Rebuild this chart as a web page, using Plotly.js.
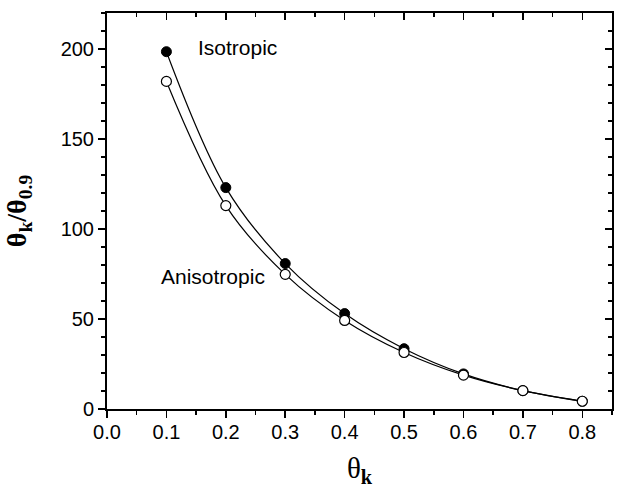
<!DOCTYPE html>
<html>
<head>
<meta charset="utf-8">
<script src="https://cdn.plot.ly/plotly-3.0.1.min.js"></script>
<style>html,body{margin:0;padding:0;background:#fff;}#chart{width:620px;height:488px;}</style>
</head>
<body>
<div id="chart"></div>
<script>
const thetaK = [0.1, 0.2, 0.3, 0.4, 0.5, 0.6, 0.7, 0.8];
const isotropic = [198.5, 123, 80.8, 53, 33.5, 19.5, 10.2, 4.3];
const anisotropic = [182, 113, 74.8, 49.2, 31.4, 18.8, 10.2, 4.3];
const xTickVals = [0, 0.1, 0.2, 0.3, 0.4, 0.5, 0.6, 0.7, 0.8];
const xTickText = ['0.0', '0.1', '0.2', '0.3', '0.4', '0.5', '0.6', '0.7', '0.8'];
const yTickVals = [0, 50, 100, 150, 200];

const tickFont = {family: 'Liberation Sans, Arial, sans-serif', size: 20, color: '#000'};
const serif = 'Liberation Serif, Times New Roman, serif';

const traces = [
  {x: thetaK, y: isotropic, mode: 'lines+markers', name: 'Isotropic',
   line: {color: '#000', width: 1.2, shape: 'spline'},
   marker: {symbol: 'circle', size: 10, color: '#000', line: {color: '#000', width: 1}}},
  {x: thetaK, y: anisotropic, mode: 'lines+markers', name: 'Anisotropic',
   line: {color: '#000', width: 1.2, shape: 'spline'},
   marker: {symbol: 'circle', size: 10, color: '#fff', line: {color: '#000', width: 1.2}}},
  {x: [null], y: [null], xaxis: 'x2', yaxis: 'y2', mode: 'markers', showlegend: false, hoverinfo: 'skip'}
];

const layout = {
  width: 620, height: 488,
  margin: {l: 107, r: 8, t: 13, b: 79},
  paper_bgcolor: '#fff', plot_bgcolor: '#fff',
  showlegend: false,
  xaxis: {range: [0, 0.85], tickvals: xTickVals, ticktext: xTickText,
    ticks: 'outside', ticklen: 7, tickwidth: 1.5, tickcolor: '#000',
    minor: {dtick: 0.05, tick0: 0, ticks: 'outside', ticklen: 4, tickwidth: 1.5, tickcolor: '#000'},
    showline: true, linewidth: 2, linecolor: '#000', showgrid: false, zeroline: false,
    tickfont: tickFont, ticklabelstandoff: -3,
    title: {text: 'θ<sub><b>k</b></sub>', font: {family: serif, size: 29, color: '#000'}, standoff: 22}},
  yaxis: {range: [0, 220], tickvals: yTickVals,
    ticks: 'outside', ticklen: 7, tickwidth: 1.5, tickcolor: '#000',
    minor: {dtick: 10, tick0: 0, ticks: 'outside', ticklen: 4, tickwidth: 1.5, tickcolor: '#000'},
    showline: true, linewidth: 2, linecolor: '#000', showgrid: false, zeroline: false,
    tickfont: tickFont,
    title: {text: '<b>θ<sub>k</sub>/θ<sub>0.9</sub></b>', font: {family: serif, size: 28, color: '#000'}, standoff: 26}},
  xaxis2: {overlaying: 'x', side: 'top', anchor: 'y2', range: [0, 0.85], tickvals: xTickVals,
    showticklabels: false, ticks: 'inside', ticklen: 7, tickwidth: 1.5, tickcolor: '#000',
    minor: {dtick: 0.05, tick0: 0, ticks: 'inside', ticklen: 4, tickwidth: 1.5, tickcolor: '#000'},
    showline: true, linewidth: 2, linecolor: '#000', showgrid: false, zeroline: false},
  yaxis2: {overlaying: 'y', side: 'right', anchor: 'x2', range: [0, 220], tickvals: yTickVals,
    showticklabels: false, ticks: 'inside', ticklen: 7, tickwidth: 1.5, tickcolor: '#000',
    minor: {dtick: 10, tick0: 0, ticks: 'inside', ticklen: 4, tickwidth: 1.5, tickcolor: '#000'},
    showline: true, linewidth: 2, linecolor: '#000', showgrid: false, zeroline: false},
  annotations: [
    {x: 0.219, y: 201, xref: 'x', yref: 'y', text: 'Isotropic', showarrow: false,
     font: {family: 'Liberation Sans, Arial, sans-serif', size: 21, color: '#000'}},
    {x: 0.179, y: 73.5, xref: 'x', yref: 'y', text: 'Anisotropic', showarrow: false,
     font: {family: 'Liberation Sans, Arial, sans-serif', size: 21, color: '#000'}}
  ]
};

Plotly.newPlot('chart', traces, layout, {displayModeBar: false, staticPlot: true});
</script>
</body>
</html>
